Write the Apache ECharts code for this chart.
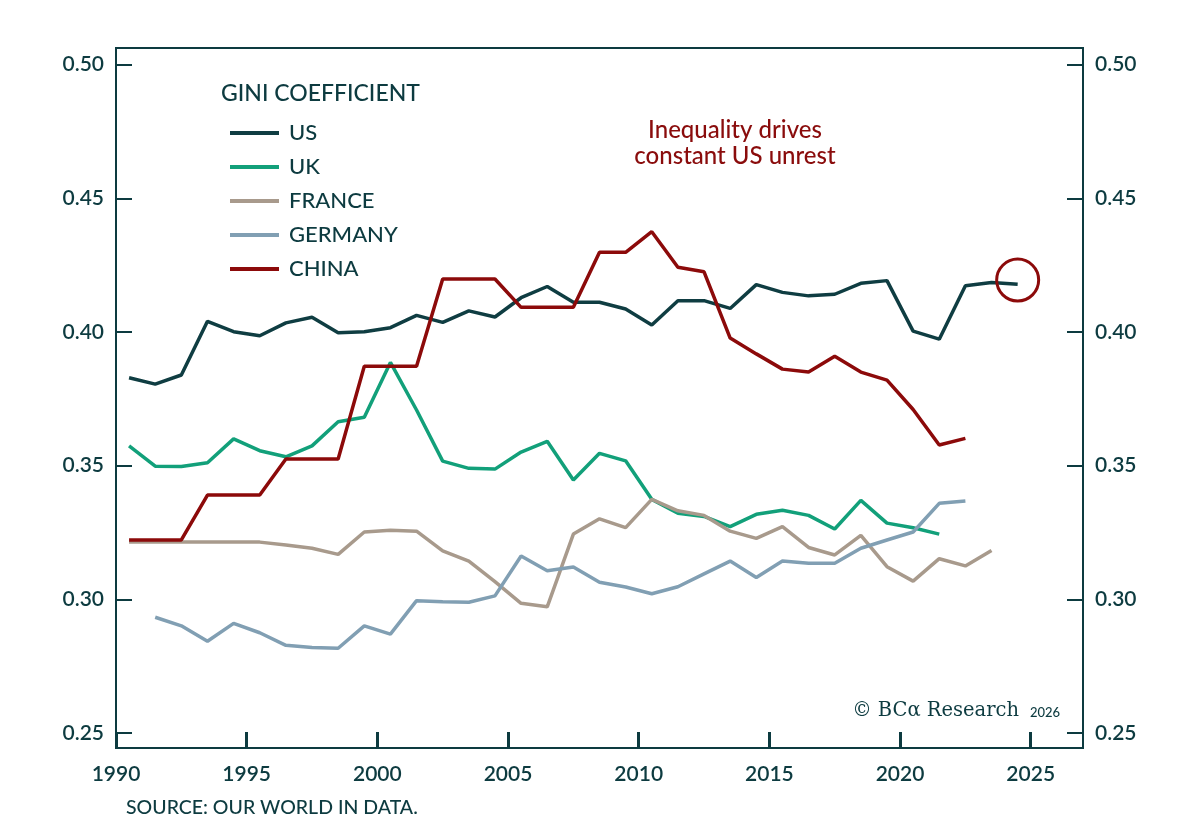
<!DOCTYPE html>
<html>
<head>
<meta charset="utf-8">
<title>Gini coefficient</title>
<script src="https://cdn.jsdelivr.net/npm/echarts@6/dist/echarts.min.js"></script>
<style>
  html, body { margin: 0; padding: 0; background: #fff; }
  #chart { width: 1200px; height: 830px; }
</style>
</head>
<body>
<div id="chart"></div>
<script>
// values, one per year (plotted at mid-year)
var usYears = [1990, 2024];
var usVals = [0.3829, 0.3805, 0.3839, 0.4040, 0.4001, 0.3986, 0.4034, 0.4055, 0.3997, 0.4001,
              0.4016, 0.4062, 0.4036, 0.4079, 0.4056, 0.4128, 0.4170, 0.4111, 0.4111, 0.4086,
              0.4026, 0.4117, 0.4117, 0.4088, 0.4177, 0.4148, 0.4135, 0.4141, 0.4182, 0.4192,
              0.4003, 0.3973, 0.4173, 0.4185, 0.4178];
var ukYears = [1990, 2021];
var ukVals = [0.3574, 0.3498, 0.3497, 0.3511, 0.3600, 0.3556, 0.3533, 0.3574, 0.3664, 0.3681,
              0.3886, 0.3708, 0.3517, 0.3490, 0.3487, 0.3551, 0.3591, 0.3446, 0.3546, 0.3518,
              0.3374, 0.3322, 0.3310, 0.3272, 0.3318, 0.3333, 0.3314, 0.3263, 0.3370, 0.3285,
              0.3268, 0.3244];
var frYears = [1990, 2023];
var frVals = [0.3214, 0.3214, 0.3214, 0.3214, 0.3214, 0.3214, 0.3203, 0.3191, 0.3168, 0.3252,
              0.3258, 0.3255, 0.3181, 0.3143, 0.3066, 0.2985, 0.2972, 0.3244, 0.3301, 0.3268,
              0.3374, 0.3331, 0.3314, 0.3255, 0.3228, 0.3272, 0.3194, 0.3166, 0.3239, 0.3122,
              0.3068, 0.3152, 0.3125, 0.3183];
var deYears = [1991, 2022];
var deVals = [0.2933, 0.2901, 0.2843, 0.2910, 0.2875, 0.2828, 0.2820, 0.2817, 0.2901,
              0.2870, 0.2995, 0.2991, 0.2989, 0.3013, 0.3162, 0.3107, 0.3121, 0.3064, 0.3046,
              0.3021, 0.3047, 0.3095, 0.3143, 0.3082, 0.3143, 0.3135, 0.3135, 0.3191, 0.3222,
              0.3252, 0.3359, 0.3368];
var cnYears = [1990, 2022];
var cnVals = [0.3222, 0.3222, 0.3222, 0.3390, 0.3390, 0.3390, 0.3525, 0.3525, 0.3525, 0.3872,
              0.3872, 0.3872, 0.4198, 0.4198, 0.4198, 0.4092, 0.4092, 0.4092, 0.4298, 0.4298,
              0.4375, 0.4242, 0.4225, 0.3977, 0.3918, 0.3861, 0.3850, 0.3909, 0.3850, 0.3820,
              0.3710, 0.3577, 0.3602];

var xTicks = [1990, 1995, 2000, 2005, 2010, 2015, 2020, 2025];
var yTicks = [0.25, 0.30, 0.35, 0.40, 0.45, 0.50];
var names = ['US', 'UK', 'FRANCE', 'GERMANY', 'CHINA'];
var highlight = [2024.5, 0.4194];

var ink = '#0d3b40';
var colors = ['#0f3d42', '#12a07a', '#a89a8c', '#819fb3', '#8c0a0a'];
var font = 'Lato, "Noto Sans", sans-serif';

function pairs(range, vals) {
  var out = [];
  for (var i = 0; i < vals.length; i++) {
    out.push([range[0] + i + 0.5, vals[i]]);
  }
  return out;
}

var lines = [
  pairs(usYears, usVals),
  pairs(ukYears, ukVals),
  pairs(frYears, frVals),
  pairs(deYears, deVals),
  pairs(cnYears, cnVals)
];

function yAxisOf(pos) {
  return {
    type: 'value',
    position: pos,
    min: 0.2444,
    max: 0.5062,
    splitLine: { show: false },
    axisLine: { show: true, lineStyle: { color: ink, width: 2 } },
    axisTick: {
      show: true, inside: true, length: 16, customValues: yTicks,
      lineStyle: { color: ink, width: 2 }
    },
    axisLabel: {
      customValues: yTicks,
      margin: 12,
      color: ink,
      fontFamily: font,
      fontSize: 21,
      fontWeight: 600,
      formatter: function (v) { return v.toFixed(2); }
    }
  };
}

var chart = echarts.init(document.getElementById('chart'));

var series = names.map(function (n, i) {
  return {
    name: n,
    type: 'line',
    data: lines[i],
    symbol: 'none',
    showSymbol: false,
    lineStyle: { color: colors[i], width: 3.5 },
    itemStyle: { color: colors[i] },
    z: 2 + i
  };
});
series.push({
  name: 'mark',
  type: 'scatter',
  data: [highlight],
  symbol: 'circle',
  symbolSize: 42,
  silent: true,
  itemStyle: { color: 'rgba(0,0,0,0)', borderColor: colors[4], borderWidth: 3, opacity: 1 },
  z: 10
});

chart.setOption({
  animation: false,
  backgroundColor: '#fff',
  grid: {
    left: 116, right: 117, top: 48, bottom: 82,
    show: true, borderColor: ink, borderWidth: 2
  },
  title: {
    text: 'GINI COEFFICIENT',
    left: 221, top: 82, padding: 0,
    textStyle: { color: ink, fontFamily: font, fontSize: 23, fontWeight: 500 }
  },
  legend: {
    data: names,
    orient: 'vertical',
    left: 230, top: 122,
    padding: 0,
    icon: 'rect',
    itemWidth: 49, itemHeight: 4, itemGap: 12,
    textStyle: { color: ink, fontFamily: font, fontSize: 22, fontWeight: 500, padding: [0, 0, 0, 5] }
  },
  xAxis: {
    type: 'value',
    min: 1990,
    max: 2027,
    interval: 5,
    splitLine: { show: false },
    axisLine: { show: true, lineStyle: { color: ink, width: 2 } },
    axisTick: {
      show: true, inside: true, length: 16, customValues: xTicks,
      lineStyle: { color: ink, width: 3 }
    },
    axisLabel: {
      customValues: xTicks,
      margin: 16,
      color: ink,
      fontFamily: font,
      fontSize: 21,
      fontWeight: 600,
      formatter: function (v) { return v > 2025 ? '' : String(v); }
    }
  },
  yAxis: [yAxisOf('left'), yAxisOf('right')],
  series: series,
  graphic: [
    {
      type: 'text', x: 735, y: 143,
      style: {
        text: 'Inequality drives\nconstant US unrest',
        align: 'center', verticalAlign: 'middle',
        fill: '#8a0c0c', fontFamily: font, fontSize: 24, fontWeight: 500, lineHeight: 26
      }
    },
    {
      type: 'text', x: 1019, y: 711,
      style: {
        text: '\u00a9 BC\u03b1 Research',
        align: 'right', verticalAlign: 'middle',
        fill: ink, fontFamily: '"DejaVu Serif", "Liberation Serif", serif', fontSize: 19.5
      }
    },
    {
      type: 'text', x: 1030, y: 713,
      style: {
        text: '2026',
        align: 'left', verticalAlign: 'middle',
        fill: ink, fontFamily: font, fontSize: 13, fontWeight: 500
      }
    },
    {
      type: 'text', x: 126, y: 808,
      style: {
        text: 'SOURCE: OUR WORLD IN DATA.',
        align: 'left', verticalAlign: 'middle',
        fill: ink, fontFamily: font, fontSize: 19.5, fontWeight: 500
      }
    }
  ]
});

window.addEventListener('resize', function () { chart.resize(); });
</script>
</body>
</html>
